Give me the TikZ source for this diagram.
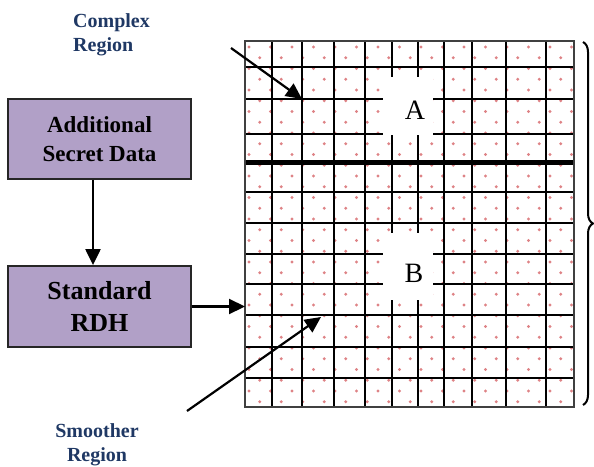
\documentclass[tikz,border=0pt]{standalone}
\usepackage{fontspec}
\setmainfont{Liberation Serif}
\usetikzlibrary{arrows.meta,decorations.pathreplacing}
\definecolor{boxfill}{RGB}{177,160,199}
\definecolor{regblue}{RGB}{31,56,100}
\definecolor{dotred}{RGB}{214,100,104}
\begin{document}
\begin{tikzpicture}[x=1pt,y=-1pt,
    box/.style={draw=black!85,line width=1.8pt,fill=boxfill,minimum width=183pt,
        align=center,font=\bfseries},
    lbl/.style={inner sep=0pt,text=regblue,font=\fontsize{20}{24}\selectfont\bfseries},
    arr/.style={line width=2.2pt,-{Triangle[length=16pt,width=15pt]}},
    gridln/.style={line width=2pt},
    letter/.style={inner sep=0pt,font=\fontsize{28}{28}\selectfont}]
    \useasboundingbox (0,0) rectangle (594,466);
    \coordinate (gnw) at (245,41);
    \coordinate (gse) at (574,407);
    \begin{scope}
        \clip (gnw) rectangle (gse);
        \foreach \r in {0,...,34}
            \foreach \c in {0,...,15}
                \fill[dotred,opacity=.8] ({249+21.5*\c+10.75*mod(\r,2)},{47+10.75*\r}) circle (1.7);
    \end{scope}
    \foreach \x in {272,302,334,365,392,418,444,472,506,546}
        \draw[gridln] (\x,41) -- (\x,407);
    \foreach \y in {67,99,134,192,223,254,284,315,347,378}
        \draw[gridln] (245,\y) -- (574,\y);
    \draw[line width=5pt] (245,162) -- (574,162);
    \draw[gridln,black!75] (gnw) rectangle (gse);
    \fill[white] (383,77) rectangle (433,135);
    \fill[white] (383,233) rectangle (433,300);
    \node[letter] (labA) at (415,110) {A};
    \node[letter] (labB) at (414,273) {B};
    \node[box,minimum height=80pt,font=\fontsize{23}{29}\selectfont\bfseries] (addl) at (99.5,139) {Additional\\Secret Data};
    \node[box,minimum height=81pt,font=\fontsize{26}{32}\selectfont\bfseries] (rdh) at (99.5,306.5) {Standard\\RDH};
    \node[lbl,anchor=north west,align=left] (complex) at (73,13) {Complex\\Region};
    \node[lbl,anchor=north,align=center] (smooth) at (97,423) {Smoother\\Region};
    \coordinate (cstart) at (231,48);
    \coordinate (ctip) at (302,99);
    \coordinate (sstart) at (187,411);
    \coordinate (stip) at (321,317);
    \draw[arr] ([xshift=-6.5pt]addl.south) -- ([xshift=-6.5pt]rdh.north);
    \draw[arr] (rdh.east) -- (rdh.east -| gnw);
    \draw[arr] (cstart) -- (ctip);
    \draw[arr] (sstart) -- (stip);
    \draw[line width=2pt,decorate,decoration={brace,amplitude=10pt}] (583,42) -- (583,405);
\end{tikzpicture}
\end{document}
